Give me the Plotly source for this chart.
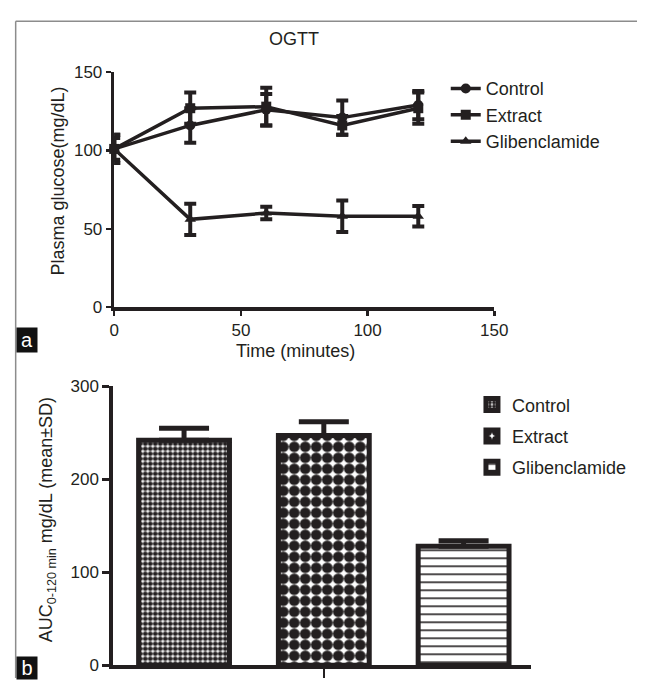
import plotly.graph_objects as go

# ---------------- data ----------------
time_min = [0, 30, 60, 90, 120]
control = [101, 116, 126, 121, 129]
control_sd = [9, 11, 10, 11, 9]
extract = [101, 127, 128, 116, 127]
extract_sd = [9, 10, 12, 6, 10]
glib = [101, 56, 60, 58, 58]
glib_sd = [7, 10, 4, 10, 6.5]

groups = ["Control", "Extract", "Glibenclamide"]
auc = [242, 247, 128]
auc_sd = [13, 15, 6]

x_ticks_top = [0, 50, 100, 150]
y_ticks_top = [0, 50, 100, 150]
y_ticks_bot = [0, 100, 200, 300]

W, H = 651, 688
INK = "#231f20"
FONT = "Liberation Sans, Arial, sans-serif"


def px(x):
    return x / W


def py(y):
    return 1 - y / H


fig = go.Figure()

# ---------------- top panel: OGTT ----------------
series = [
    ("Control", control, control_sd, "circle"),
    ("Extract", extract, extract_sd, "square"),
    ("Glibenclamide", glib, glib_sd, "triangle-up"),
]
for i, (name, vals, sds, sym) in enumerate(series):
    fig.add_trace(go.Scatter(
        x=time_min, y=vals, name=name, mode="lines+markers",
        line=dict(color=INK, width=3.5),
        marker=dict(symbol=sym, size=10, color=INK),
        error_y=dict(type="data", array=sds, visible=True, color=INK,
                     thickness=4, width=6),
        cliponaxis=False, xaxis="x", yaxis="y", legend="legend",
        legendgroup="t%d" % i, hoverinfo="skip",
    ))

# ---------------- bottom panel: AUC ----------------
patterns = [
    dict(shape=".", size=5, solidity=0.7),
    dict(shape=".", size=11, solidity=0.75),
    dict(shape="-", size=8, solidity=0.2),
]
bar_x = [i + 1 for i in range(len(groups))]
for i, g in enumerate(groups):
    pat = dict(patterns[i])
    pat.update(fgcolor=INK, bgcolor="white", fillmode="replace")
    fig.add_trace(go.Bar(
        x=[bar_x[i]], y=[auc[i]], name=g, width=0.65,
        marker=dict(color="white", line=dict(color=INK, width=5), pattern=pat),
        error_y=dict(type="data", symmetric=False, array=[auc_sd[i]],
                     arrayminus=[0], visible=True, color=INK,
                     thickness=5, width=25),
        cliponaxis=False, xaxis="x2", yaxis="y2", legend="legend2",
        legendgroup="b%d" % i, hoverinfo="skip",
    ))

axis_common = dict(showgrid=False, zeroline=False, showline=True,
                   linecolor=INK, linewidth=3.5, ticks="outside",
                   tickcolor=INK, tickwidth=2.5,
                   tickfont=dict(family=FONT, size=17, color=INK))

fig.update_layout(
    width=W, height=H,
    margin=dict(l=0, r=0, t=0, b=0),
    paper_bgcolor="white", plot_bgcolor="white",
    font=dict(family=FONT, color=INK, size=18),
    barmode="overlay",
    xaxis=dict(domain=[px(112.5), px(504)], range=[0, 150],
               tickvals=x_ticks_top, ticklen=5, anchor="y", **axis_common),
    yaxis=dict(domain=[py(306.5), py(65)], range=[0, 150],
               tickvals=y_ticks_top, ticklen=5, anchor="x", **axis_common),
    xaxis2=dict(domain=[px(111), px(541.5)], range=[0.49, 3.48],
                tickvals=[2], showticklabels=False, ticklen=9, anchor="y2",
                **axis_common),
    yaxis2=dict(domain=[py(675), py(388)], range=[0, 300],
                tickvals=y_ticks_bot, ticklen=7, anchor="x2", **axis_common),
    legend=dict(x=px(454), y=py(63), xanchor="left", yanchor="top",
                bgcolor="rgba(0,0,0,0)", font=dict(family=FONT, size=18, color=INK),
                tracegroupgap=0),
    legend2=dict(x=px(481), y=py(388), xanchor="left", yanchor="top",
                 bgcolor="rgba(0,0,0,0)", font=dict(family=FONT, size=18, color=INK),
                 tracegroupgap=5),
    showlegend=True,
)

ann = [
    dict(text="OGTT", x=px(298), y=py(31)),
    dict(text="Time (minutes)", x=px(299.5), y=py(352)),
    dict(text="Plasma glucose(mg/dL)", x=px(55), y=py(177), textangle=-90),
    dict(text="AUC<sub>0-120 min</sub> mg/dL (mean±SD)", x=px(44), y=py(525),
         textangle=-90),
]
for a in ann:
    fig.add_annotation(xref="paper", yref="paper", showarrow=False,
                       xanchor="center", yanchor="middle",
                       font=dict(family=FONT, size=18, color=INK), **a)

# panel labels
for lab, yc, hh in [("a", 340.5, 22), ("b", 678, 20)]:
    fig.add_annotation(text=lab, xref="paper", yref="paper", showarrow=False,
                       x=px(11), y=py(yc), xanchor="left", yanchor="middle",
                       bgcolor="#111111", font=dict(family=FONT, size=20, color="white"),
                       width=18, height=hh, borderpad=1)

# frame
fig.add_shape(type="line", xref="paper", yref="paper", x0=px(11), x1=px(11),
              y0=0, y1=py(12.5), line=dict(color="#8c8c8c", width=1.5))
fig.add_shape(type="line", xref="paper", yref="paper", x0=px(11), x1=1,
              y0=py(12.5), y1=py(12.5), line=dict(color="#8c8c8c", width=1.5))

fig.write_html(
    "out.html",
    config={"displayModeBar": False, "staticPlot": True},
    post_script="document.body.style.margin='0';"
                "document.documentElement.style.overflow='hidden';",
)
